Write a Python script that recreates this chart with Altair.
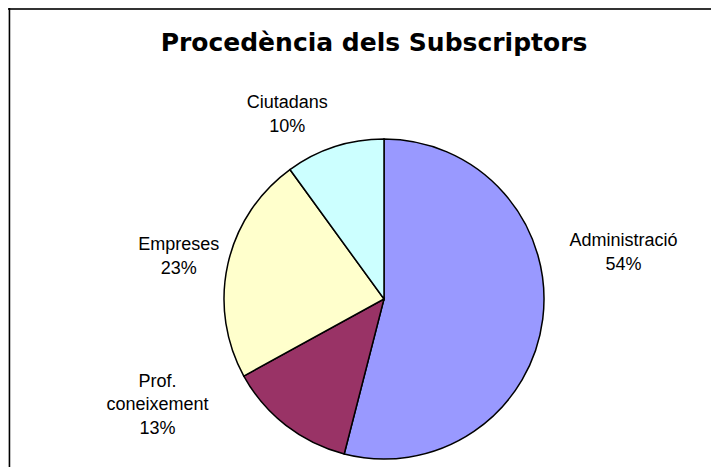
import altair as alt
import pandas as pd

# Data
categories = ["Administració", "Prof. coneixement", "Empreses", "Ciutadans"]
values = [54, 13, 23, 10]
label_lines = ["Administració\n54%", "Prof.\nconeixement\n13%", "Empreses\n23%", "Ciutadans\n10%"]
colors = ["#9999FF", "#993366", "#FFFFCC", "#CCFFFF"]
title_text = "Procedència dels Subscriptors"

total = sum(values)
ends = list(pd.Series(values).cumsum())
starts = [e - v for e, v in zip(ends, values)]
df = pd.DataFrame({
    "category": categories,
    "value": values,
    "order": list(range(len(values))),
    "start": starts,
    "end": ends,
    "mid": [(s + e) / 2 for s, e in zip(starts, ends)],
    "label": label_lines,
})

W, H = 703, 459
CX, CY = 376, 291  # pie centre inside the view
R = 160
theta_scale = alt.Scale(domain=[0, total])

base = alt.Chart(df)

pie = base.mark_arc(outerRadius=R, stroke="black", strokeWidth=1.5).encode(
    theta=alt.Theta("start:Q", scale=theta_scale),
    theta2="end:Q",
    color=alt.Color("category:N", scale=alt.Scale(domain=categories, range=colors), legend=None),
    x=alt.value(CX),
    y=alt.value(CY),
)

# label nudges (Excel-style placement) per category
nudges = {
    "Administració": (41, -83),
    "Prof. coneixement": (-104, -75.5),
    "Empreses": (-10, -10),
    "Ciutadans": (-35, -5.5),
}

label_layers = []
for cat in categories:
    dx, dy = nudges[cat]
    label_layers.append(
        base.transform_filter(alt.datum.category == cat)
        .mark_text(
            radius=200, dx=dx, dy=dy, align="center", baseline="middle",
            font="Liberation Sans", fontSize=18, lineBreak="\n", lineHeight=23.5, color="black",
        )
        .encode(
            theta=alt.Theta("mid:Q", scale=theta_scale),
            text="label:N",
            x=alt.value(CX),
            y=alt.value(CY),
        )
    )

title = alt.Chart(pd.DataFrame({"t": [title_text]})).mark_text(
    font="DejaVu Sans", fontWeight="bold", fontSize=25, align="center", baseline="alphabetic", color="black"
).encode(text="t:N", x=alt.value(366), y=alt.value(43))

border_df = pd.DataFrame({"a": [0]})
top_line = alt.Chart(border_df).mark_rule(color="#333333", strokeWidth=2).encode(
    x=alt.value(0), x2=alt.value(W), y=alt.value(1)
)
left_line = alt.Chart(border_df).mark_rule(color="black", strokeWidth=1.5).encode(
    x=alt.value(1.5), y=alt.value(0), y2=alt.value(H)
)

chart = alt.layer(pie, *label_layers, title, top_line, left_line).properties(
    width=W, height=H, padding=0,
    autosize=alt.AutoSizeParams(type="none"),
).configure_view(stroke=None).configure(background="white")

chart.save("out.html", embed_options={"renderer": "svg", "actions": False})
